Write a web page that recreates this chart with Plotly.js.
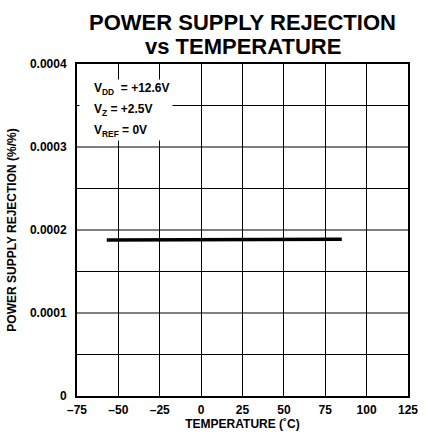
<!DOCTYPE html>
<html>
<head>
<meta charset="utf-8">
<script src="https://cdn.plot.ly/plotly-3.0.1.min.js"></script>
<style>html,body{margin:0;padding:0;background:#fff;}</style>
</head>
<body>
<div id="chart" style="width:426px;height:439px;"></div>
<script>
const temperature = [-57, 85];
const psr = [0.000188, 0.000189];
const xTickVals = [-75, -50, -25, 0, 25, 50, 75, 100, 125];
const xTickText = ['–75', '–50', '–25', '0', '25', '50', '75', '100', '125'];
const yTickVals = [0, 0.0001, 0.0002, 0.0003, 0.0004];
const yTickText = ['0', '0.0001', '0.0002', '0.0003', '0.0004'];
const minorGrid = [0.00005, 0.0001, 0.00015, 0.0002, 0.00025, 0.0003, 0.00035];
const titleLines = ['POWER SUPPLY REJECTION', 'vs TEMPERATURE'];
const conditionLines = ['V<sub>DD</sub>  = +12.6V', 'V<sub>Z</sub> = +2.5V', 'V<sub>REF</sub> = 0V'];

const font = 'Liberation Sans, Arial, sans-serif';
const trace = {
  x: temperature, y: psr, mode: 'lines', type: 'scatter',
  line: {color: '#000', width: 3.5}, hoverinfo: 'skip', showlegend: false
};
const shapes = minorGrid.map(v => ({
  type: 'line', xref: 'paper', yref: 'y', x0: 0, x1: 1, y0: v, y1: v,
  line: {color: '#000', width: 1}, layer: 'below'
}));
const annotations = [{
  xref: 'paper', yref: 'paper', x: 0.006, y: 0.955, xanchor: 'left', yanchor: 'top',
  text: ' ', width: 92, height: 60, bgcolor: '#fff', borderpad: 0, showarrow: false
}];
conditionLines.forEach((t, i) => annotations.push({
  xref: 'paper', yref: 'paper', x: 0.045, y: 0.925 - i * 0.0635, xanchor: 'left', yanchor: 'middle',
  text: '<b>' + t + '</b>', align: 'left', showarrow: false,
  font: {size: 12, family: font, color: '#000'}
}));
annotations.push({
  xref: 'paper', yref: 'paper', x: 0.5, y: (396 - 46) / 332, xanchor: 'center', yanchor: 'middle',
  text: '<b>' + titleLines[1] + '</b>', showarrow: false,
  font: {size: 22, family: font, color: '#000'}
});
const layout = {
  width: 426, height: 439,
  margin: {l: 77, r: 18, t: 64, b: 43},
  paper_bgcolor: '#fff', plot_bgcolor: '#fff',
  font: {family: font, color: '#000'},
  title: {
    text: '<b>' + titleLines[0] + '</b>',
    font: {size: 22, family: font, color: '#000'},
    xref: 'paper', x: 0.5, xanchor: 'center',
    yref: 'container', y: 1 - 22 / 439, yanchor: 'middle'
  },
  xaxis: {
    range: [-75, 125], tickvals: xTickVals, ticktext: xTickText,
    showgrid: true, gridcolor: '#000', gridwidth: 1,
    showline: true, linecolor: '#000', linewidth: 2, mirror: true,
    ticks: '', zeroline: false, ticklabelstandoff: 2,
    tickfont: {size: 12, family: font, color: '#000', weight: 'bold'},
    title: {text: '<b>TEMPERATURE (˚C)</b>', font: {size: 12, family: font, color: '#000'}, standoff: 2}
  },
  yaxis: {
    range: [0, 0.0004], tickvals: yTickVals, ticktext: yTickText,
    showgrid: false,
    showline: true, linecolor: '#000', linewidth: 2, mirror: true,
    ticks: '', zeroline: false, ticklabelstandoff: 6,
    tickfont: {size: 12, family: font, color: '#000', weight: 'bold'},
    title: {text: '<b>POWER SUPPLY REJECTION (%/%)</b>', font: {size: 12, family: font, color: '#000'}, standoff: 11}
  },
  shapes: shapes,
  annotations: annotations
};
Plotly.newPlot('chart', [trace], layout, {displayModeBar: false, staticPlot: true});
</script>
</body>
</html>
